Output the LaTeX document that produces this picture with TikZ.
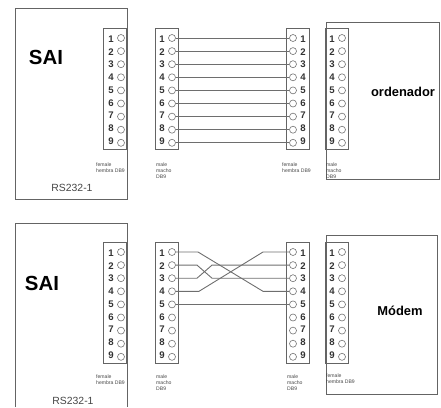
\documentclass[tikz,border=0pt]{standalone}
\usepackage{fontspec}
\setmainfont{Liberation Sans}
\definecolor{bgrey}  {RGB}{100,100,100}
\definecolor{wgrey}  {RGB}{110,110,110}
\definecolor{pgrey}  {RGB}{115,115,115}
\definecolor{tgrey}  {RGB}{70,70,70}
\tikzset{
    devbox/.style={draw=bgrey,line width=0.9pt,inner sep=0pt},
    conn/.style={draw=bgrey,line width=0.9pt,inner sep=0pt,minimum width=23,minimum height=121},
    hole/.style={circle,draw=pgrey,line width=0.6pt,inner sep=0pt,minimum size=7},
    holenum/.style={inner sep=0pt,font=\fontsize{9.6}{10}\bfseries\selectfont,text=black!80},
    wire/.style={draw=wgrey,line width=0.9pt},
    smalltxt/.style={inner sep=0pt,anchor=north west,align=left,text=tgrey,font=\fontsize{5.1}{6}\selectfont},
    saitxt/.style={inner sep=0pt,font=\fontsize{20.4}{22}\bfseries\selectfont},
    devtxt/.style={inner sep=0pt,font=\fontsize{12.9}{14}\bfseries\selectfont},
    rstxt/.style={inner sep=0pt,text=tgrey,font=\fontsize{10.4}{12}\selectfont}
  }
\begin{document}
\begin{tikzpicture}[x=1pt,y=-1pt]
 \useasboundingbox (0,0) rectangle (441,407);
 %Top row units
     \node[devbox,minimum width=112,minimum height=191] (sai1) at (71,103.5) {};
     \node[devbox,minimum width=113,minimum height=157] (pc) at (382.5,100.5) {};
 %Bottom row units, the first one runs off the page
     \draw[draw=bgrey,line width=0.9pt] (15,407) |- (127,223) -- (127,407);
     \node[devbox,minimum width=111,minimum height=159] (modem) at (381.5,314.5) {};
 %Connector bodies
     \foreach \cname/\cx/\cy in {ca/115/88.5,cb/166.5/88.5,cc/297.5/88.5,cd/337/88.5,
                                 ce/115/303,cf/166.5/303,cg/297.5/303,ch/337/303}
         \node[conn] (\cname) at (\cx,\cy) {};
 %Holes and their numbers
     \foreach \pname/\numx/\holex/\basey in {a/111/121/38,b/162/172/38,c/303/293/38,d/332/342/38,
                                           e/111/121/252,f/162/172/252,g/303/293/252,h/332/342/252}
         \foreach \i in {1,...,9} {
             \node[hole] (\pname\i) at (\holex,{\basey+13.1*(\i-1)}) {};
             \node[holenum] (\pname n\i) at (\numx,{\basey+1+12.75*(\i-1)}) {\i};
         }
 %Straight cable
     \foreach \i in {1,...,9}
         \draw[wire] (b\i) -- (c\i);
 %Crossed cable
     \draw[wire] (f1) -- (198,252) -- (263,291.3) -- (g4);
     \draw[wire] (f4) -- (199,291.3) -- (263,252) -- (g1);
     \draw[wire] (f2) -- (197,265.1) -- (212,278.2) -- (g3);
     \draw[wire] (f3) -- (197,278.2) -- (212,265.1) -- (g2);
     \draw[wire] (f5) -- (g5);
 %Names
     \node[saitxt] (sait) at (46,57) {SAI};
     \node[saitxt] (saib) at (42,283) {SAI};
     \node[devtxt,fill=white,inner xsep=4pt,inner ysep=2pt] (pct) at (403,92) {ordenador};
     \node[devtxt] (modemt) at (400,311) {Módem};
     \node[rstxt] (rst) at (72,188) {RS232-1};
     \node[rstxt] (rsb) at (73,401) {RS232-1};
 %Connector labels
     \node[smalltxt] (la) at (96,163) {female\\hembra DB9};
     \node[smalltxt] (lb) at (156,163) {male\\macho\\DB9};
     \node[smalltxt] (lc) at (282,163) {female\\hembra DB9};
     \node[smalltxt] (ld) at (326,163) {male\\macho\\DB9};
     \node[smalltxt] (le) at (96,375) {female\\hembra DB9};
     \node[smalltxt] (lf) at (156,375) {male\\macho\\DB9};
     \node[smalltxt] (lg) at (287,375) {male\\macho\\DB9};
     \node[smalltxt] (lh) at (326,374) {female\\hembra DB9};
 \end{tikzpicture}
\end{document}
